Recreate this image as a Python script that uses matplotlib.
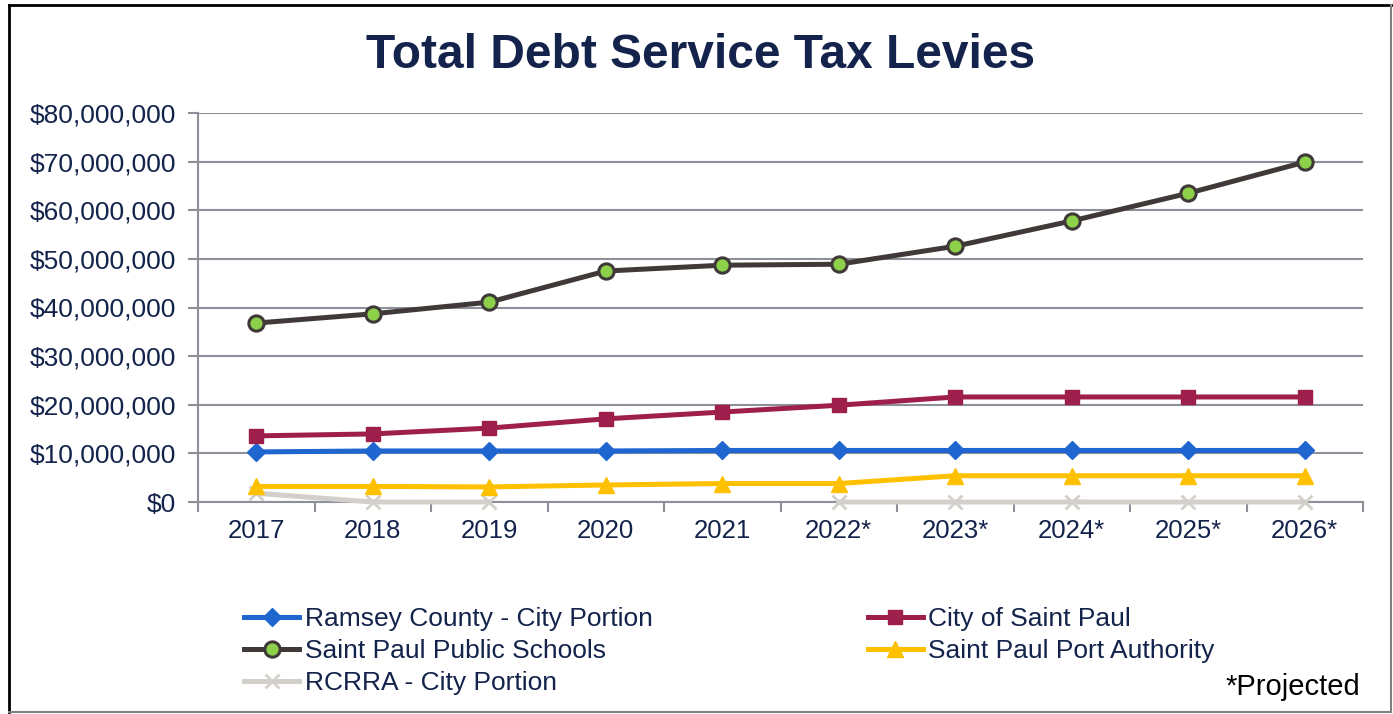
import numpy as np
import matplotlib
matplotlib.use("Agg")
import matplotlib.pyplot as plt
from matplotlib.lines import Line2D
from matplotlib.ticker import FuncFormatter, MultipleLocator, FixedLocator

plt.rcParams['font.family'] = ['Liberation Sans', 'DejaVu Sans']

years = ["2017", "2018", "2019", "2020", "2021", "2022*", "2023*", "2024*", "2025*", "2026*"]
ramsey = [10.3, 10.5, 10.5, 10.5, 10.6, 10.6, 10.6, 10.6, 10.6, 10.6]
city = [13.6, 14.0, 15.2, 17.1, 18.5, 19.9, 21.6, 21.6, 21.6, 21.6]
schools = [36.8, 38.7, 41.1, 47.5, 48.7, 48.9, 52.6, 57.8, 63.5, 69.9]
port = [3.2, 3.2, 3.1, 3.5, 3.8, 3.8, 5.4, 5.4, 5.4, 5.4]
rcrra = [1.8, 0.0, 0.0, np.nan, np.nan, 0.0, 0.0, 0.0, 0.0, 0.0]

navy = "#13234B"
grid_c = "#8E9099"

fig = plt.figure(figsize=(13.93, 7.14), dpi=100)
ax = fig.add_axes([198/1393, 1-502/714, (1363-198)/1393, (502-113)/714])

x = np.arange(len(years))
scale = 1e6
h_r, = ax.plot(x, np.array(ramsey)*scale, color="#1F66D1", lw=3.6, marker="D", ms=9,
               mfc="#1F66D1", mec="#1F66D1", label="Ramsey County - City Portion", zorder=4, clip_on=False)
h_c, = ax.plot(x, np.array(city)*scale, color="#9E1F4B", lw=3.6, marker="s", ms=10,
               mfc="#9E1F4B", mec="#9E1F4B", label="City of Saint Paul", zorder=4, clip_on=False)
h_s, = ax.plot(x, np.array(schools)*scale, color="#3F3A38", lw=3.6, marker="o", ms=11,
               mfc="#8DD04A", mec="#3F3A38", mew=2.2, label="Saint Paul Public Schools", zorder=5, clip_on=False)
h_p, = ax.plot(x, np.array(port)*scale, color="#FFC000", lw=3.6, marker="^", ms=11,
               mfc="#FFC000", mec="#FFC000", label="Saint Paul Port Authority", zorder=4, clip_on=False)
h_x, = ax.plot(x, np.array(rcrra)*scale, color="#D3D0CB", lw=3.6, marker="x", ms=10, mew=2,
               mfc="#D3D0CB", mec="#D3D0CB", label="RCRRA - City Portion", zorder=3, clip_on=False)

ax.set_xlim(-0.5, len(years)-0.5)
ax.set_ylim(0, 80e6)
ax.yaxis.set_major_locator(MultipleLocator(10e6))
ax.yaxis.set_major_formatter(FuncFormatter(lambda v, p: "${:,.0f}".format(v)))
ax.grid(axis="y", color=grid_c, lw=1.5, zorder=1)
ax.set_axisbelow(True)

ax.set_xticks(x)
ax.set_xticklabels(years)
ax.xaxis.set_minor_locator(FixedLocator(np.arange(-0.5, len(years), 1.0)))
ax.tick_params(axis="x", which="major", length=0, pad=12, labelsize=18.5, labelcolor=navy)
ax.tick_params(axis="x", which="minor", length=7, width=1.5, color=grid_c, direction="out")
ax.tick_params(axis="y", which="major", length=7, width=1.5, color=grid_c, pad=9,
               labelsize=19, labelcolor=navy)

for s in ["top", "right"]:
    ax.spines[s].set_visible(False)
for s in ["left", "bottom"]:
    ax.spines[s].set_color(grid_c)
    ax.spines[s].set_linewidth(1.5)
    ax.spines[s].set_zorder(2)

fig.text(701/1393, 1-56/714, "Total Debt Service Tax Levies", ha="center", va="center",
         fontsize=34.5, fontweight="bold", color=navy)

leg = fig.legend(handles=[h_r, h_s, h_x, h_c, h_p], loc="upper left",
                 bbox_to_anchor=(244/1393, 1-607/714), ncol=2, frameon=False,
                 fontsize=19, handlelength=2.1, handletextpad=0.2, columnspacing=8.15,
                 labelspacing=0.3, borderaxespad=0, borderpad=0)
for t in leg.get_texts():
    t.set_color(navy)

fig.text(1360/1393, 1-687/714, "*Projected", ha="right", va="center", fontsize=21, color="black")

# outer frame
fig.add_artist(Line2D([9/1393, 9/1393], [1-5/714, 1-712/714], transform=fig.transFigure, color="black", lw=2))
fig.add_artist(Line2D([9/1393, 1391/1393], [1-5/714, 1-5/714], transform=fig.transFigure, color="black", lw=2))
fig.add_artist(Line2D([1391/1393, 1391/1393], [1-5/714, 1-712/714], transform=fig.transFigure, color="#808080", lw=1.5))
fig.add_artist(Line2D([9/1393, 1391/1393], [1-712/714, 1-712/714], transform=fig.transFigure, color="#808080", lw=1.5))

fig.savefig("out.png", dpi=100)
